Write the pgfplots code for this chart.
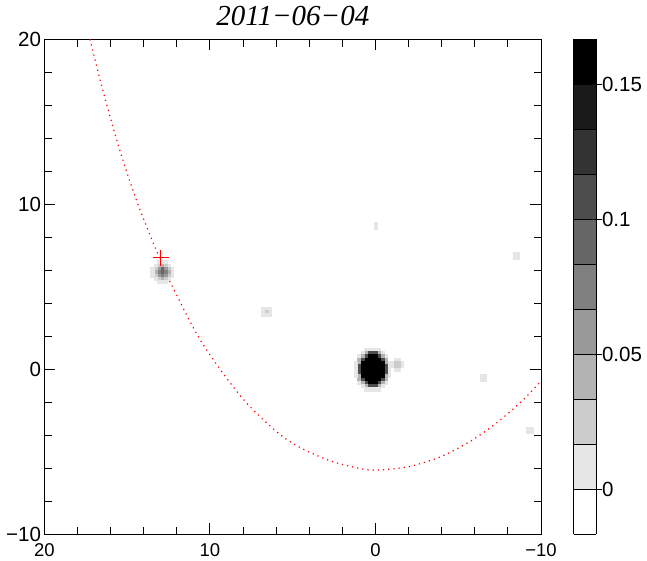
\documentclass[border=0pt]{standalone}
\usepackage{pgfplots}
\pgfplotsset{compat=1.18}
\usepackage{fontspec}
\setmainfont{Liberation Serif}
\newfontfamily\helv{Liberation Sans}

% one image pixel = 0.2 units
\pgfplotsset{
  pix/.style={scatter, only marks, mark=square*, mark size=1.56pt,
    point meta=explicit,
    mark options={line width=0.2pt},
    scatter/use mapped color={draw=mapped color, fill=mapped color}},
}

\begin{document}
\begin{tikzpicture}
\begin{axis}[
  at={(0pt,0pt)}, anchor=south west,
  scale only axis, width=496.5pt, height=495pt,
  xmin=-10, xmax=20, ymin=-10, ymax=20, x dir=reverse,
  xtick={-10,0,10,20}, xticklabels={−10,0,10,20},
  ytick={-10,0,10,20}, yticklabels={−10,0,10,20},
  minor tick num=4,
  tick align=inside,
  major tick length=11pt, minor tick length=7.5pt,
  every tick/.style={black, line width=1pt},
  axis line style={line width=1pt},
  tick label style={font=\helv\fontsize{20.5}{24}\selectfont},
  xticklabel style={font=\helv\fontsize{18.5}{21}\selectfont, yshift=-5.5pt},
  title={\fontsize{29}{34}\selectfont\itshape 2011−06−04},
  title style={at={(0.5,1)}, anchor=base, yshift=8pt},
  colormap={cb}{rgb255(0cm)=(255,255,255) rgb255(1cm)=(230,230,230)
    rgb255(2cm)=(204,204,204) rgb255(3cm)=(179,179,179)
    rgb255(4cm)=(153,153,153) rgb255(5cm)=(128,128,128)
    rgb255(6cm)=(102,102,102) rgb255(7cm)=(77,77,77)
    rgb255(8cm)=(51,51,51) rgb255(9cm)=(26,26,26)
    rgb255(10cm)=(0,0,0) rgb255(11cm)=(0,0,0)},
  colormap access=piecewise constant,
  point meta min=-0.0166667, point meta max=0.1666667,
  colorbar,
  colorbar/width=22.5pt,
  colorbar style={
    at={(parent axis.north east)}, anchor=north west, xshift=24pt,
    ytick={0,0.05,0.1,0.15}, yticklabels={0,0.05,0.1,0.15},
    scaled y ticks=false,
    ytick pos=right, yticklabel pos=right,
    tick align=outside, major tick length=6pt,
    every tick/.style={black, line width=0.8pt},
    axis line style={line width=0.8pt},
    ymajorgrids, major grid style={black, line width=0.7pt},
    extra y ticks={0.0166667,0.0333333,0.0666667,0.0833333,0.1166667,0.1333333},
    extra y tick labels={},
    extra y tick style={major tick length=0pt, grid=major},
    axis on top,
    yticklabel style={font=\helv\fontsize{20.5}{24}\selectfont, xshift=-3.5pt},
  },
]

% main source
\addplot[pix] coordinates {
(-0.2,1.2)[0.008] (0.0,1.2)[0.008] (0.2,1.2)[0.008] (0.4,1.2)[0.008] (0.6,1.2)[0.008]
(-0.4,1.0)[0.008] (-0.2,1.0)[0.042] (0.0,1.0)[0.108] (0.2,1.0)[0.108] (0.4,1.0)[0.108] (0.6,1.0)[0.042] (0.8,1.0)[0.008]
(-0.6,0.8)[0.008] (-0.4,0.8)[0.042] (-0.2,0.8)[0.108] (0.0,0.8)[0.16] (0.2,0.8)[0.16] (0.4,0.8)[0.16] (0.6,0.8)[0.108] (0.8,0.8)[0.042] (1.0,0.8)[0.008]
(-0.6,0.6)[0.042] (-0.4,0.6)[0.108] (-0.2,0.6)[0.16] (0.0,0.6)[0.16] (0.2,0.6)[0.16] (0.4,0.6)[0.16] (0.6,0.6)[0.16] (0.8,0.6)[0.108] (1.0,0.6)[0.042]
(-0.8,0.4)[0.008] (-0.6,0.4)[0.042] (-0.4,0.4)[0.16] (-0.2,0.4)[0.16] (0.0,0.4)[0.16] (0.2,0.4)[0.16] (0.4,0.4)[0.16] (0.6,0.4)[0.16] (0.8,0.4)[0.16] (1.0,0.4)[0.042] (1.2,0.4)[0.008]
(-0.8,0.2)[0.008] (-0.6,0.2)[0.108] (-0.4,0.2)[0.16] (-0.2,0.2)[0.16] (0.0,0.2)[0.16] (0.2,0.2)[0.16] (0.4,0.2)[0.16] (0.6,0.2)[0.16] (0.8,0.2)[0.16] (1.0,0.2)[0.108] (1.2,0.2)[0.008]
(-0.8,0.0)[0.008] (-0.6,0.0)[0.108] (-0.4,0.0)[0.16] (-0.2,0.0)[0.16] (0.0,0.0)[0.16] (0.2,0.0)[0.16] (0.4,0.0)[0.16] (0.6,0.0)[0.16] (0.8,0.0)[0.16] (1.0,0.0)[0.108] (1.2,0.0)[0.008]
(-0.8,-0.2)[0.008] (-0.6,-0.2)[0.108] (-0.4,-0.2)[0.16] (-0.2,-0.2)[0.16] (0.0,-0.2)[0.16] (0.2,-0.2)[0.16] (0.4,-0.2)[0.16] (0.6,-0.2)[0.16] (0.8,-0.2)[0.16] (1.0,-0.2)[0.108] (1.2,-0.2)[0.008]
(-0.8,-0.4)[0.008] (-0.6,-0.4)[0.042] (-0.4,-0.4)[0.16] (-0.2,-0.4)[0.16] (0.0,-0.4)[0.16] (0.2,-0.4)[0.16] (0.4,-0.4)[0.16] (0.6,-0.4)[0.16] (0.8,-0.4)[0.16] (1.0,-0.4)[0.042] (1.2,-0.4)[0.008]
(-0.6,-0.6)[0.042] (-0.4,-0.6)[0.108] (-0.2,-0.6)[0.16] (0.0,-0.6)[0.16] (0.2,-0.6)[0.16] (0.4,-0.6)[0.16] (0.6,-0.6)[0.16] (0.8,-0.6)[0.108] (1.0,-0.6)[0.042]
(-0.6,-0.8)[0.008] (-0.4,-0.8)[0.042] (-0.2,-0.8)[0.108] (0.0,-0.8)[0.16] (0.2,-0.8)[0.16] (0.4,-0.8)[0.16] (0.6,-0.8)[0.108] (0.8,-0.8)[0.042] (1.0,-0.8)[0.008]
(-0.4,-1.0)[0.008] (-0.2,-1.0)[0.042] (0.0,-1.0)[0.108] (0.2,-1.0)[0.108] (0.4,-1.0)[0.108] (0.6,-1.0)[0.042] (0.8,-1.0)[0.008]
(-0.2,-1.2)[0.008] (0.0,-1.2)[0.008] (0.2,-1.2)[0.008] (0.4,-1.2)[0.008] (0.6,-1.2)[0.008]
% faint companion east of it
(-1.0,0.2)[0.008] (-1.0,0.4)[0.008] (-1.2,0.0)[0.008] (-1.4,0.0)[0.008]
(-1.2,0.6)[0.008] (-1.4,0.6)[0.008] (-1.6,0.2)[0.008] (-1.6,0.4)[0.008]
(-1.2,0.2)[0.025] (-1.2,0.4)[0.025] (-1.4,0.2)[0.025] (-1.4,0.4)[0.025]
};

% source near the cross
\addplot[pix] coordinates {
(12.7,6.5)[0.008] (12.9,6.5)[0.008] (13.1,6.5)[0.008]
(12.5,6.3)[0.008] (12.7,6.3)[0.025] (12.9,6.3)[0.042] (13.1,6.3)[0.025] (13.3,6.3)[0.008]
(12.3,6.1)[0.008] (12.5,6.1)[0.025] (12.7,6.1)[0.058] (12.9,6.1)[0.092] (13.1,6.1)[0.058] (13.3,6.1)[0.025] (13.5,6.1)[0.008]
(12.3,5.9)[0.008] (12.5,5.9)[0.042] (12.7,5.9)[0.075] (12.9,5.9)[0.092] (13.1,5.9)[0.075] (13.3,5.9)[0.042] (13.5,5.9)[0.008]
(12.3,5.7)[0.008] (12.5,5.7)[0.025] (12.7,5.7)[0.058] (12.9,5.7)[0.075] (13.1,5.7)[0.058] (13.3,5.7)[0.025] (13.5,5.7)[0.008]
(12.5,5.5)[0.008] (12.7,5.5)[0.025] (12.9,5.5)[0.042] (13.1,5.5)[0.025] (13.3,5.5)[0.008]
(12.7,5.3)[0.008] (12.9,5.3)[0.008] (13.1,5.3)[0.008]
};

% faint sources
\addplot[pix] coordinates {
(6.4,3.7)[0.008] (6.6,3.7)[0.008] (6.8,3.7)[0.008]
(6.4,3.5)[0.008] (6.6,3.5)[0.025] (6.8,3.5)[0.008]
(6.4,3.3)[0.008] (6.6,3.3)[0.008] (6.8,3.3)[0.008]
(0.0,8.8)[0.008] (0.0,8.6)[0.008]
(-8.4,7.0)[0.008] (-8.6,7.0)[0.008] (-8.4,6.8)[0.008] (-8.6,6.8)[0.008]
(-6.4,-0.4)[0.008] (-6.6,-0.4)[0.008] (-6.4,-0.6)[0.008] (-6.6,-0.6)[0.008]
(-9.2,-3.6)[0.008] (-9.4,-3.6)[0.008] (-9.2,-3.8)[0.008] (-9.4,-3.8)[0.008]
};

% orbit track
\addplot[red, line width=1.2pt, dash pattern=on 1.2pt off 4pt, smooth] coordinates {
(17.25,20.0) (16.5,17.0) (15.5,13.45) (14.5,10.4) (13.46,7.73) (12.76,6.08)
(12.19,4.85) (10.5,1.64) (8.02,-1.78) (5.43,-4.21) (3.0,-5.45) (1.0,-6.0)
(-0.15,-6.1) (-2.0,-5.9) (-3.89,-5.32) (-5.53,-4.48) (-6.69,-3.72)
(-7.83,-2.83) (-8.87,-1.90) (-9.88,-0.85) (-10.0,-0.72)
};

% predicted position
\addplot[only marks, mark=+, mark size=8pt, red, line width=1.3pt] coordinates {(12.98,6.76)};
\end{axis}
\pgfresetboundingbox
\path[use as bounding box] (-44.5pt,-25.7pt) rectangle (602.5pt,534.3pt);
\end{tikzpicture}
\end{document}
